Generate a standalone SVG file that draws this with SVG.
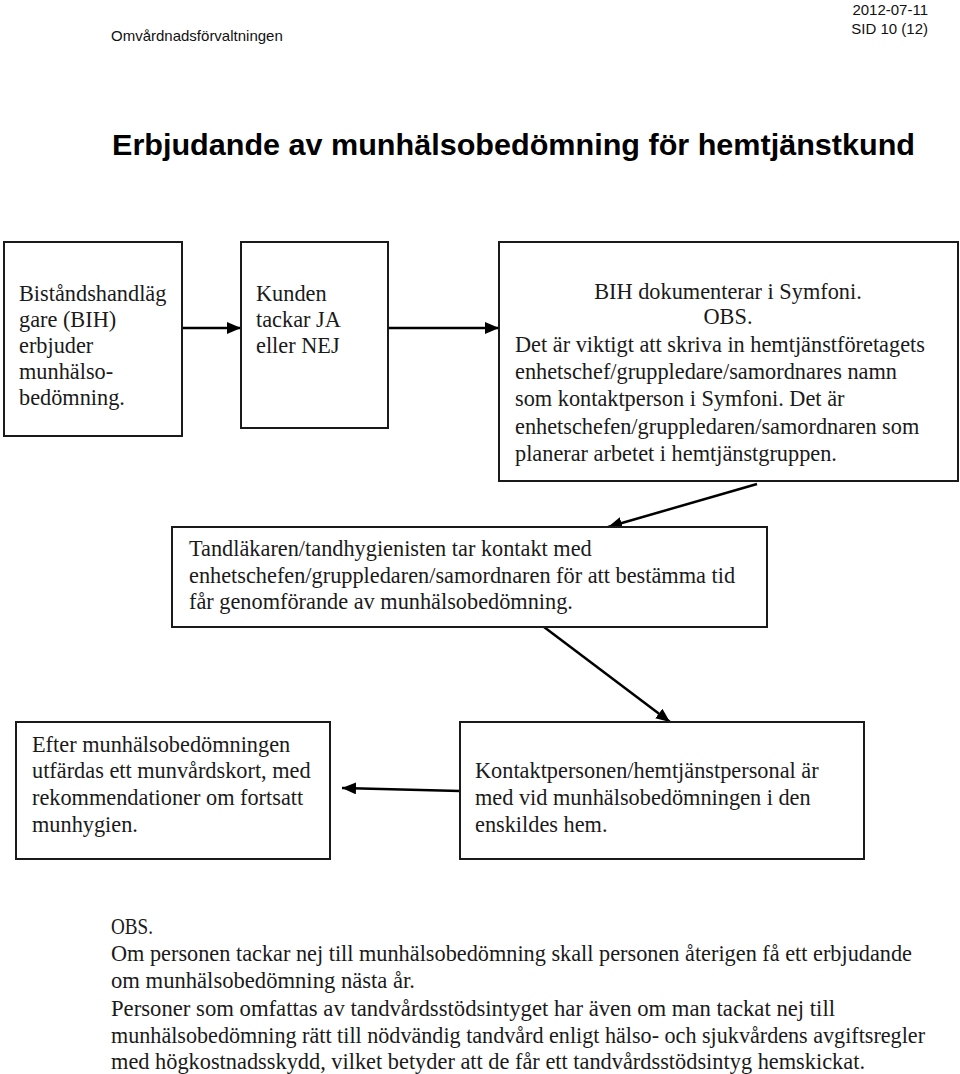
<svg xmlns="http://www.w3.org/2000/svg" width="960" height="1074" viewBox="0 0 960 1074">
<style>
.hdr{font-family:"Liberation Sans",Arial,sans-serif;font-size:15px;fill:#111}
.title{font-family:"Liberation Sans",Arial,sans-serif;font-size:29px;font-weight:bold;fill:#000}
.t{font-family:"Liberation Serif","Times New Roman",serif;font-size:22.3px;fill:#1a1a1a}
.c{text-anchor:middle}
.box{fill:#fff;stroke:#1a1a1a;stroke-width:2}
.conn{stroke:#000;stroke-width:2.5;fill:none;marker-end:url(#ah)}
</style>
<defs>
<marker id="ah" markerUnits="userSpaceOnUse" markerWidth="14" markerHeight="12" viewBox="0 0 14 12" refX="14" refY="6" orient="auto">
<path d="M0,0 L14,6 L0,12 z" fill="#000"/>
</marker>
</defs>
<rect width="960" height="1074" fill="#fff"/>
<g id="header">
<text class="hdr" x="111" y="41">Omvårdnadsförvaltningen</text>
<text class="hdr" x="928" y="15" text-anchor="end">2012-07-11</text>
<text class="hdr" x="928" y="34" text-anchor="end">SID 10 (12)</text>
<text class="title" x="112" y="155" textLength="803" lengthAdjust="spacingAndGlyphs">Erbjudande av munhälsobedömning för hemtjänstkund</text>
</g>
<g id="connectors">
<line class="conn" x1="182" y1="328" x2="241" y2="328"/>
<line class="conn" x1="375" y1="328" x2="499" y2="328"/>
<line class="conn" x1="757" y1="484" x2="608" y2="527"/>
<line class="conn" x1="544" y1="627" x2="670" y2="722"/>
<line class="conn" x1="460" y1="791" x2="342" y2="788"/>
</g>
<g id="n1">
<rect class="box" x="4" y="242" width="178" height="194"/>
<text class="t" x="19" y="301">Biståndshandläg</text>
<text class="t" x="19" y="327">gare (BIH)</text>
<text class="t" x="19" y="353">erbjuder</text>
<text class="t" x="19" y="379">munhälso-</text>
<text class="t" x="19" y="405">bedömning.</text>
</g>
<g id="n2">
<rect class="box" x="241" y="242" width="147" height="186"/>
<text class="t" x="256" y="301">Kunden</text>
<text class="t" x="256" y="327">tackar JA</text>
<text class="t" x="256" y="353">eller NEJ</text>
</g>
<g id="n3">
<rect class="box" x="499" y="242" width="459" height="239"/>
<text class="t c" x="728" y="299">BIH dokumenterar i Symfoni.</text>
<text class="t c" x="728" y="324">OBS.</text>
<text class="t" x="515" y="352">Det är viktigt att skriva in hemtjänstföretagets</text>
<text class="t" x="515" y="379">enhetschef/gruppledare/samordnares namn</text>
<text class="t" x="515" y="406">som kontaktperson i Symfoni. Det är</text>
<text class="t" x="515" y="434">enhetschefen/gruppledaren/samordnaren som</text>
<text class="t" x="515" y="461">planerar arbetet i hemtjänstgruppen.</text>
</g>
<g id="n4">
<rect class="box" x="172" y="527" width="595" height="100"/>
<text class="t" x="189" y="556">Tandläkaren/tandhygienisten tar kontakt med</text>
<text class="t" x="189" y="583">enhetschefen/gruppledaren/samordnaren för att bestämma tid</text>
<text class="t" x="189" y="609">får genomförande av munhälsobedömning.</text>
</g>
<g id="n5">
<rect class="box" x="16" y="722" width="314" height="137"/>
<text class="t" x="32" y="752">Efter munhälsobedömningen</text>
<text class="t" x="32" y="778">utfärdas ett munvårdskort, med</text>
<text class="t" x="32" y="805">rekommendationer om fortsatt</text>
<text class="t" x="32" y="832">munhygien.</text>
</g>
<g id="n6">
<rect class="box" x="460" y="722" width="404" height="137"/>
<text class="t" x="475" y="778">Kontaktpersonen/hemtjänstpersonal är</text>
<text class="t" x="475" y="805">med vid munhälsobedömningen i den</text>
<text class="t" x="475" y="832">enskildes hem.</text>
</g>
<g id="note">
<text class="t" x="111" y="934" textLength="42" lengthAdjust="spacingAndGlyphs">OBS.</text>
<text class="t" x="111" y="961" textLength="801" lengthAdjust="spacingAndGlyphs">Om personen tackar nej till munhälsobedömning skall personen återigen få ett erbjudande</text>
<text class="t" x="111" y="988" textLength="304" lengthAdjust="spacingAndGlyphs">om munhälsobedömning nästa år.</text>
<text class="t" x="111" y="1016" textLength="724" lengthAdjust="spacingAndGlyphs">Personer som omfattas av tandvårdsstödsintyget har även om man tackat nej till</text>
<text class="t" x="111" y="1043" textLength="814" lengthAdjust="spacingAndGlyphs">munhälsobedömning rätt till nödvändig tandvård enligt hälso- och sjukvårdens avgiftsregler</text>
<text class="t" x="111" y="1069" textLength="754" lengthAdjust="spacingAndGlyphs">med högkostnadsskydd, vilket betyder att de får ett tandvårdsstödsintyg hemskickat.</text>
</g>
</svg>
